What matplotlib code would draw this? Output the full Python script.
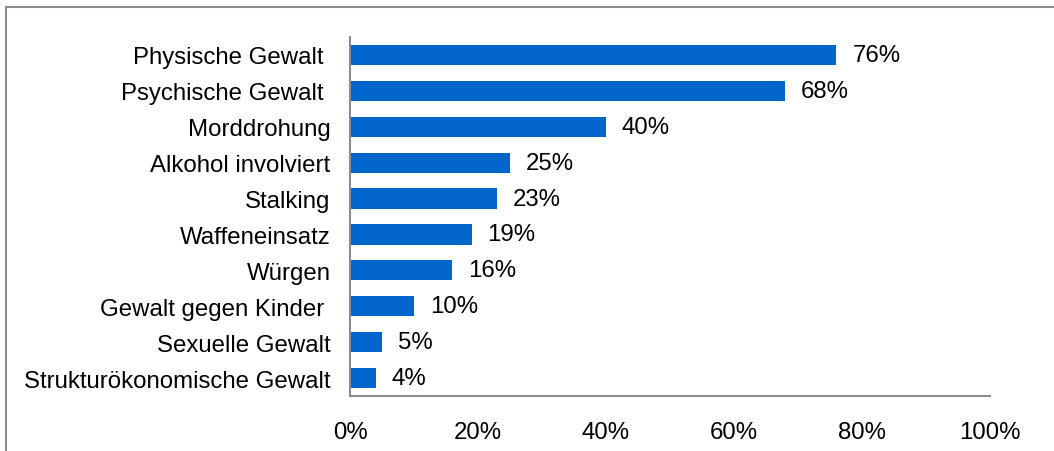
import matplotlib.pyplot as plt
from matplotlib.patches import Rectangle

# Daten
kategorien = ["Physische Gewalt ", "Psychische Gewalt ", "Morddrohung", "Alkohol involviert",
              "Stalking", "Waffeneinsatz", "Würgen", "Gewalt gegen Kinder ",
              "Sexuelle Gewalt", "Strukturökonomische Gewalt"]
werte = [76, 68, 40, 25, 23, 19, 16, 10, 5, 4]
x_ticks = [0, 20, 40, 60, 80, 100]

plt.rcParams['font.family'] = ['Liberation Sans', 'DejaVu Sans']
fs = 17.3

fig = plt.figure(figsize=(10.54, 4.52), dpi=100)
W, H = 1054, 452
ax = fig.add_axes([350 / W, 1 - 397 / H, 640 / W, 359 / H])

y = list(range(len(kategorien)))
ax.barh(y, werte, height=0.56, color='#0066CC')
ax.set_ylim(len(kategorien) - 0.5, -0.5)
ax.set_xlim(0, 100)

for yi, v in zip(y, werte):
    ax.text(v + 2.5, yi, f"{v}%", va='center', ha='left', fontsize=fs, color='black')

ax.set_yticks(y)
ax.set_yticklabels(kategorien, fontsize=fs)
ax.set_xticks(x_ticks)
ax.set_xticklabels([f"{t}%" for t in x_ticks], fontsize=fs)
ax.tick_params(axis='y', length=0, pad=14)
ax.tick_params(axis='x', length=0, pad=18)

for s in ['top', 'right']:
    ax.spines[s].set_visible(False)
for s in ['left', 'bottom']:
    ax.spines[s].set_color('#8c8c8c')
    ax.spines[s].set_linewidth(1.5)

# Rahmen um die Grafik
fig.patches.append(Rectangle((6 / W, -0.1), 1.2, 1 - 8 / H + 0.1, transform=fig.transFigure,
                             fill=False, edgecolor='#8c8c8c', linewidth=1.5))

fig.savefig('out.png', dpi=100)
